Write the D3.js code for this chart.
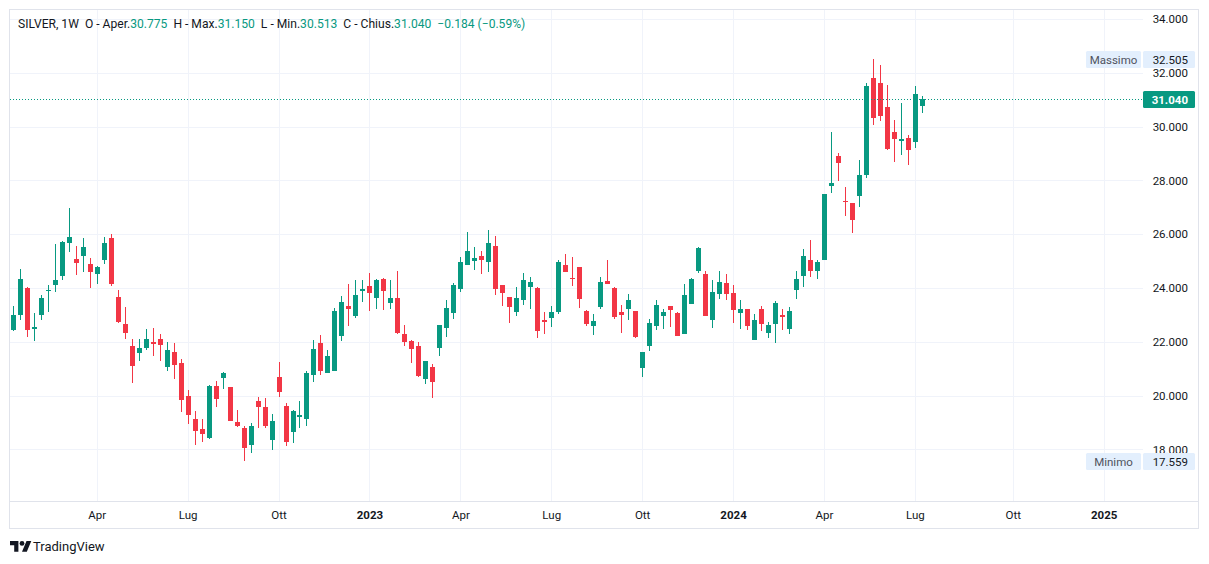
<!DOCTYPE html>
<html>
<head>
<meta charset="utf-8">
<script src="https://cdn.jsdelivr.net/npm/d3@7"></script>
<style>
  html, body { margin: 0; padding: 0; background: #ffffff; }
  svg { display: block; font-family: Roboto, "Noto Sans", sans-serif; }
</style>
</head>
<body>
<svg id="chart" width="1209" height="564"></svg>
<script>
// ---- data (weekly candles, SILVER 1W, first bar week of 2022-01-10) ----
const firstWeek = "2022-01-10";
const opens = [22.44,23.00,24.00,22.49,23.00,23.87,24.11,24.45,25.68,25.08,25.20,24.89,24.53,25.04,25.86,23.67,22.66,21.84,21.58,21.78,
  21.99,22.10,21.08,21.62,21.21,19.99,19.13,18.76,18.44,20.36,20.67,20.32,19.02,18.79,18.17,19.80,19.58,18.36,20.69,19.61,
  18.66,19.22,19.14,20.78,21.96,20.85,20.93,22.22,23.33,22.97,23.90,24.07,23.64,24.33,23.45,23.63,22.29,22.03,21.84,20.62,
  21.06,21.77,22.51,23.07,23.96,24.86,25.01,25.19,24.97,25.56,24.11,23.67,23.11,23.55,24.04,24.00,22.81,22.90,23.12,24.86,
  24.37,24.78,23.16,22.60,23.30,24.26,24.00,23.11,23.23,23.14,21.04,21.85,22.60,22.97,23.33,23.07,22.30,23.42,24.64,24.52,
  22.82,23.79,24.19,23.81,23.08,23.22,22.08,23.22,22.34,22.67,23.00,22.49,23.93,24.46,25.04,24.64,25.05,27.80,28.91,27.23,
  27.16,27.43,28.21,31.81,31.62,30.73,29.80,29.48,29.58,29.44,30.775];
const highs = [23.33,24.71,24.02,23.07,23.74,24.11,25.63,25.75,26.97,25.56,25.86,25.12,24.80,25.90,26.00,23.93,23.29,22.10,22.10,22.48,
  22.51,22.29,21.99,21.95,21.36,20.21,19.43,19.13,20.40,20.54,20.88,20.33,19.46,18.87,18.98,19.95,19.90,19.32,21.25,19.73,
  19.45,19.80,20.91,22.07,22.25,21.70,23.26,23.70,24.15,24.30,24.30,24.56,24.32,24.37,24.30,24.63,22.62,22.07,21.99,21.30,
  21.17,22.64,23.55,24.19,25.15,26.08,25.52,25.38,26.16,25.93,24.12,23.68,24.04,24.56,24.41,24.04,23.11,23.33,25.04,25.26,
  25.15,24.79,23.19,23.03,24.41,25.04,24.04,23.38,23.78,23.15,21.63,22.85,23.55,23.22,23.34,23.11,24.15,24.37,25.54,24.63,
  24.30,24.63,24.52,24.11,23.55,23.23,23.03,23.33,22.74,23.52,23.22,23.29,24.63,25.45,25.78,25.04,27.50,29.80,29.02,27.75,
  27.17,28.76,31.62,32.505,32.29,31.55,30.25,30.88,29.69,31.51,31.150];
const lows = [22.40,22.81,22.19,22.04,22.81,23.10,23.86,24.30,25.34,24.48,24.59,24.00,24.15,24.89,24.07,22.70,22.10,20.47,21.29,21.70,
  21.47,21.29,20.93,20.63,19.40,18.96,18.17,18.29,18.40,19.59,20.26,19.06,18.83,17.559,17.88,18.81,18.80,17.99,19.96,18.14,
  18.25,18.81,18.88,20.52,20.78,20.83,20.90,22.04,22.59,22.90,23.49,23.16,23.23,23.19,23.23,22.30,21.84,21.21,20.70,20.43,
  19.91,21.47,22.18,22.85,23.85,24.85,24.67,24.52,24.59,23.74,23.33,22.70,22.96,23.37,23.22,22.15,22.30,22.56,23.05,24.60,
  24.09,23.27,22.60,22.26,23.23,24.15,22.86,22.34,22.82,22.15,20.70,21.67,22.45,22.49,22.55,22.22,22.29,23.41,24.57,22.96,
  22.52,23.60,23.57,22.71,22.49,22.45,22.07,22.41,22.15,21.97,22.45,22.30,23.60,24.05,24.42,24.35,25.04,27.54,27.99,26.69,
  26.06,27.02,28.10,30.07,30.22,29.14,28.70,28.96,28.58,29.22,30.513];
const closes = [23.00,24.33,22.44,22.55,23.63,23.92,24.30,25.71,25.90,24.94,25.52,24.61,24.78,25.67,24.15,22.74,22.33,21.10,21.77,22.10,
  21.92,21.88,21.70,21.15,19.85,19.29,18.70,18.58,20.36,19.89,20.84,19.07,18.87,18.06,18.87,19.59,18.87,19.06,20.14,18.29,
  19.43,19.29,20.84,21.73,20.93,21.47,23.14,23.48,23.22,23.74,23.96,23.83,24.30,23.90,23.63,22.34,21.99,21.73,20.73,21.29,
  20.51,22.62,23.26,24.11,24.97,25.38,25.12,25.04,25.67,23.96,23.81,23.29,23.63,24.30,24.22,22.41,22.75,23.11,24.97,24.61,
  24.33,23.60,22.67,22.77,24.22,24.16,22.92,23.01,23.55,22.18,21.62,22.70,23.37,23.11,23.19,22.23,23.74,24.33,25.49,22.97,
  23.85,24.22,23.79,23.19,23.22,22.60,22.81,22.67,22.62,23.44,22.93,23.14,24.33,25.19,24.64,24.97,27.49,27.90,28.66,27.20,
  26.54,28.20,31.51,30.33,30.41,29.18,29.55,29.54,29.14,31.224,31.040];

const priceTicks = [18, 20, 22, 24, 26, 28, 30, 32, 34];
const timeTickDates = ["2022-04-04","2022-07-04","2022-10-03","2023-01-02","2023-04-03","2023-07-03",
  "2023-10-02","2024-01-01","2024-04-01","2024-07-01","2024-10-07","2025-01-06"];
const timeTickLabels = ["Apr","Lug","Ott","2023","Apr","Lug","Ott","2024","Apr","Lug","Ott","2025"];

const symbolText = "SILVER, 1W";
const lastChange = -0.184;
const lastChangePct = -0.59;
const maxValue = 32.505;
const minValue = 17.559;

// ---- layout ----
const W = 1209, H = 564;
const plot = { left: 9, right: 1143, top: 9, bottom: 501 };
const axisRight = 1199, axisBottom = 529;
const UP = "#089981", DOWN = "#f23645";
const BORDER = "#e0e3eb", GRID = "#f0f3fa", TEXT = "#131722";

const parse = d3.utcParse("%Y-%m-%d");
const dates = opens.map((_, i) => d3.utcWeek.offset(parse(firstWeek), i));
const candles = dates.map((d, i) => ({ date: d, o: opens[i], h: highs[i], l: lows[i], c: closes[i] }));

const x = d3.scaleUtc()
  .domain([parse("2022-04-04"), parse("2025-01-06")])
  .range([96.7, 1103.7]);
const y = d3.scaleLinear().domain([20, 34]).range([395.6, 19]);

const svg = d3.select("#chart");
svg.append("rect").attr("width", W).attr("height", H).attr("fill", "#fff");

svg.append("defs").append("clipPath").attr("id", "plotclip")
  .append("rect").attr("x", plot.left + 1).attr("y", plot.top + 1)
  .attr("width", plot.right - plot.left - 1).attr("height", plot.bottom - plot.top - 1);

// grid
const grid = svg.append("g").attr("shape-rendering", "crispEdges");
grid.selectAll("line.h").data(priceTicks).join("line")
  .attr("x1", plot.left).attr("x2", plot.right)
  .attr("y1", d => Math.round(y(d)) + 0.5).attr("y2", d => Math.round(y(d)) + 0.5)
  .attr("stroke", GRID);
grid.selectAll("line.v").data(timeTickDates.map(parse)).join("line")
  .attr("y1", plot.top).attr("y2", plot.bottom)
  .attr("x1", d => Math.round(x(d)) + 0.5).attr("x2", d => Math.round(x(d)) + 0.5)
  .attr("stroke", GRID);

// frame
const frame = svg.append("g").attr("shape-rendering", "crispEdges").attr("fill", "none").attr("stroke", BORDER);
frame.append("rect").attr("x", plot.left + 0.5).attr("y", plot.top + 0.5)
  .attr("width", axisRight - plot.left - 1).attr("height", axisBottom - plot.top - 1);
frame.append("line").attr("x1", plot.left).attr("x2", axisRight)
  .attr("y1", plot.bottom + 0.5).attr("y2", plot.bottom + 0.5);

// candles
const cg = svg.append("g").attr("clip-path", "url(#plotclip)").attr("shape-rendering", "crispEdges");
const cx = d => Math.round(x(d.date));
cg.selectAll("line.wick").data(candles).join("line")
  .attr("x1", d => cx(d) + 0.5).attr("x2", d => cx(d) + 0.5)
  .attr("y1", d => y(d.h)).attr("y2", d => y(d.l))
  .attr("stroke", d => d.c >= d.o ? UP : DOWN).attr("stroke-width", 1);
cg.selectAll("rect.body").data(candles).join("rect")
  .attr("x", d => cx(d) - 2).attr("width", 5)
  .attr("y", d => y(Math.max(d.o, d.c)))
  .attr("height", d => Math.max(1, Math.abs(y(d.o) - y(d.c))))
  .attr("fill", d => d.c >= d.o ? UP : DOWN);

// last price dotted line
const last = candles[candles.length - 1];
svg.append("line")
  .attr("x1", plot.left + 1).attr("x2", plot.right)
  .attr("y1", Math.round(y(last.c)) + 0.5).attr("y2", Math.round(y(last.c)) + 0.5)
  .attr("stroke", UP).attr("stroke-width", 1).attr("stroke-dasharray", "1 2")
  .attr("shape-rendering", "crispEdges");

// price axis
const fmt = d3.format(".3f");
const yAxis = svg.append("g").attr("transform", `translate(${plot.right},0)`)
  .call(d3.axisRight(y).tickValues(priceTicks).tickFormat(fmt).tickSize(0));
yAxis.select(".domain").remove();
yAxis.selectAll("text").attr("x", 45).attr("text-anchor", "end")
  .attr("fill", TEXT).style("font-size", "11.5px").style("font-family", "Roboto, sans-serif");

// time axis
const xAxis = svg.append("g").attr("transform", `translate(0,${plot.bottom})`)
  .call(d3.axisBottom(x).tickValues(timeTickDates.map(parse))
    .tickFormat((d, i) => timeTickLabels[i]).tickSize(0));
xAxis.select(".domain").remove();
xAxis.selectAll("text").attr("y", 0).attr("dy", "17.5px")
  .attr("fill", TEXT).style("font-size", "11.5px").style("font-family", "Roboto, sans-serif")
  .style("font-weight", (d, i) => /^\d{4}$/.test(timeTickLabels[i]) ? 700 : 400);

// max / min labels
function badge(value, label) {
  const yy = Math.round(y(value));
  const g = svg.append("g");
  g.append("rect").attr("x", 1086).attr("y", yy - 8).attr("width", 55).attr("height", 17)
    .attr("rx", 1.5).attr("fill", "#e3effd");
  g.append("text").attr("x", 1113.5).attr("y", yy + 4.5).attr("text-anchor", "middle")
    .attr("fill", "#50535e").style("font-size", "11.5px").text(label);
  g.append("rect").attr("x", 1143).attr("y", yy - 8).attr("width", 52).attr("height", 17)
    .attr("rx", 1.5).attr("fill", "#e3effd");
  g.append("text").attr("x", 1188).attr("y", yy + 4.5).attr("text-anchor", "end")
    .attr("fill", TEXT).style("font-size", "11.5px").text(fmt(value));
}
badge(maxValue, "Massimo");
badge(minValue, "Minimo");

// last price label
{
  const yy = Math.round(y(last.c));
  svg.append("rect").attr("x", 1143).attr("y", yy - 8).attr("width", 52).attr("height", 17)
    .attr("rx", 1.5).attr("fill", UP);
  svg.append("text").attr("x", 1188).attr("y", yy + 4.5).attr("text-anchor", "end")
    .attr("fill", "#fff").style("font-size", "11.5px").style("font-weight", 700).text(fmt(last.c));
}

// header legend
const hdr = svg.append("text").attr("x", 18).attr("y", 28)
  .style("font-size", "12.1px").attr("fill", TEXT);
const parts = [
  [symbolText + "  O - Aper.", TEXT], [fmt(last.o), UP],
  ["  H - Max.", TEXT], [fmt(last.h), UP],
  ["  L - Min.", TEXT], [fmt(last.l), UP],
  ["  C - Chius.", TEXT], [fmt(last.c), UP],
  ["  " + (lastChange < 0 ? "\u2212" : "+") + fmt(Math.abs(lastChange)) + " (" +
    (lastChangePct < 0 ? "\u2212" : "+") + d3.format(".2f")(Math.abs(lastChangePct)) + "%)", UP]
];
hdr.attr("xml:space", "preserve").style("white-space", "pre");
parts.forEach(([t, c]) => hdr.append("tspan").attr("fill", c).text(t));

// TradingView logo
const logo = svg.append("g").attr("transform", "translate(10,538.6) scale(0.6)");
logo.append("path").attr("d", "M14 22H7V11H0V4h14v18zM28 22h-8l7.5-18h8L28 22z").attr("fill", TEXT);
logo.append("circle").attr("cx", 20).attr("cy", 8).attr("r", 4).attr("fill", TEXT);
svg.append("text").attr("x", 33).attr("y", 551).attr("fill", TEXT)
  .style("font-size", "13px").text("TradingView");
</script>
</body>
</html>
